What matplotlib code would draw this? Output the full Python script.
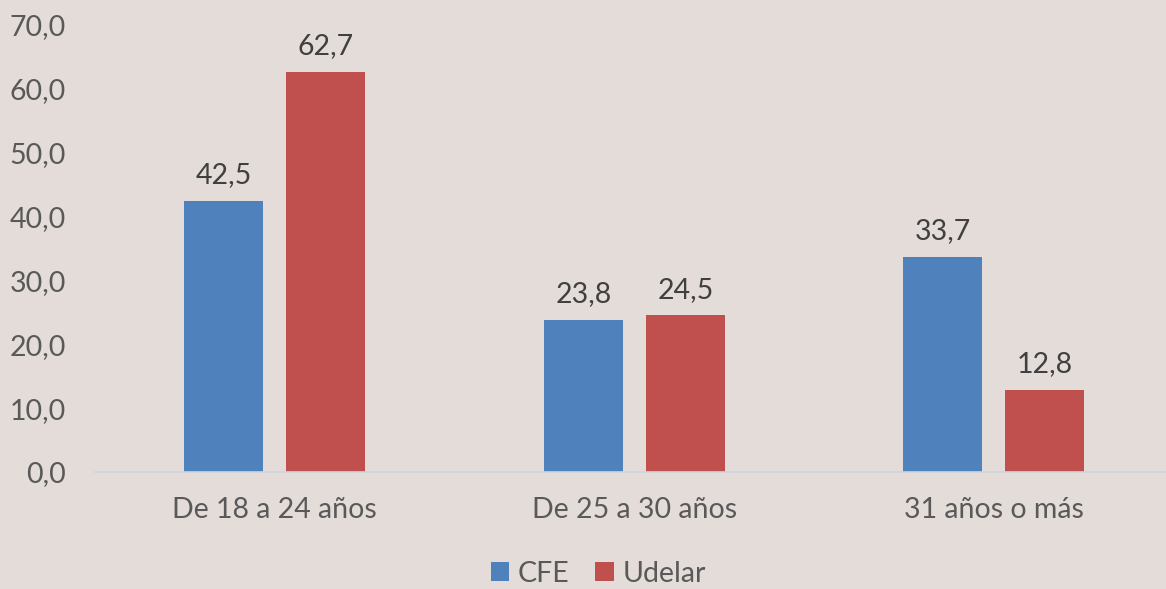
import matplotlib.pyplot as plt
import numpy as np

categorias = ["De 18 a 24 años", "De 25 a 30 años", "31 años o más"]
cfe = [42.5, 23.8, 33.7]
udelar = [62.7, 24.5, 12.8]

bg = "#E4DCD8"
plt.rcParams["font.family"] = ["Lato", "DejaVu Sans"]

fig = plt.figure(figsize=(11.66, 5.89), dpi=100, facecolor=bg)
ax = fig.add_axes([0.0815, 0.1987, 0.925, 0.759], facecolor=bg)

x = np.arange(len(categorias))
w = 0.22
off = 0.142
b1 = ax.bar(x - off, cfe, w, color="#4F81BD", label="CFE")
b2 = ax.bar(x + off, udelar, w, color="#C0504D", label="Udelar")

for bars, vals in ((b1, cfe), (b2, udelar)):
    for b, v in zip(bars, vals):
        ax.text(b.get_x() + b.get_width() / 2, v + 2.0, f"{v:.1f}".replace(".", ","),
                ha="center", va="bottom", fontsize=20.5, color="#404040")

ax.set_xlim(-0.5, 2.5)
ax.set_ylim(0, 70)
ax.set_yticks(np.arange(0, 71, 10))
ax.set_yticklabels([f"{t:.1f}".replace(".", ",") for t in np.arange(0, 71, 10)])
ax.set_xticks(x)
ax.set_xticklabels(categorias)
ax.tick_params(axis="both", length=0, labelsize=20.5, colors="#595959")
ax.tick_params(axis="x", pad=18)
ax.tick_params(axis="y", pad=21)

for s in ("top", "right", "left"):
    ax.spines[s].set_visible(False)
ax.spines["bottom"].set_color("#D0D4DC")
ax.spines["bottom"].set_linewidth(1.2)

leg = fig.legend(loc="lower center", bbox_to_anchor=(0.513, -0.04), ncol=2, frameon=False,
                 fontsize=20.5, handlelength=0.65, handleheight=0.65, handletextpad=0.3,
                 columnspacing=0.9)
for t in leg.get_texts():
    t.set_color("#595959")

fig.savefig("out.png", dpi=100, facecolor=bg)
